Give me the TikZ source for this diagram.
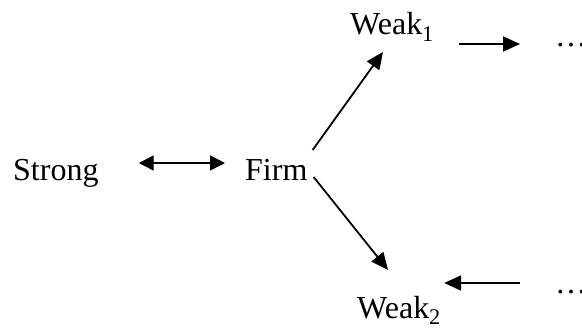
\documentclass[tikz,border=0pt]{standalone}
\usepackage{fontspec}
\setmainfont{Liberation Serif}
\usetikzlibrary{arrows.meta,calc}
\tikzset{
  lbl/.style={anchor=base west, inner sep=0pt, font=\fontsize{32}{38}\selectfont},
  link/.style={line width=1.8pt, -{Triangle[length=17pt,width=15pt]}},
  duolink/.style={line width=1.4pt, {Triangle[length=15pt,width=15pt]}-{Triangle[length=15pt,width=15pt]}}
}
\begin{document}
\begin{tikzpicture}[x=1pt,y=-1pt]
  \useasboundingbox (0,0) rectangle (582,329);
  % labels
  \node[lbl] (strong) at (13,180) {Strong};
  \node[lbl] (firm)   at (245,180) {Firm};
  \node[lbl] (weak1)  at (350,35) {Weak\textsubscript{1}};
  \node[lbl] (weak2)  at (357,318) {Weak\textsubscript{2}};
  \node[lbl] (dots1)  at (555,47) {\ldots};
  \node[lbl] (dots2)  at (555,293) {\ldots};
  % connectors
  \draw[duolink] ($(strong.base east)+(40,-17)$) -- ($(firm.base west)+(-20,-17)$);
  \draw[link] ($(firm.base east)+(5,-30)$) -- ($(weak1.base west)+(33,17)$);
  \draw[link] ($(firm.base east)+(6,-3)$) -- ($(weak2.base west)+(31,-48)$);
  \draw[link] ($(dots1.base west)+(-96,-3)$) -- ($(dots1.base west)+(-35,-3)$);
  \draw[link] ($(dots2.base west)+(-35,-10)$) -- ($(weak2.base east)+(3,-35)$);
\end{tikzpicture}
\end{document}
